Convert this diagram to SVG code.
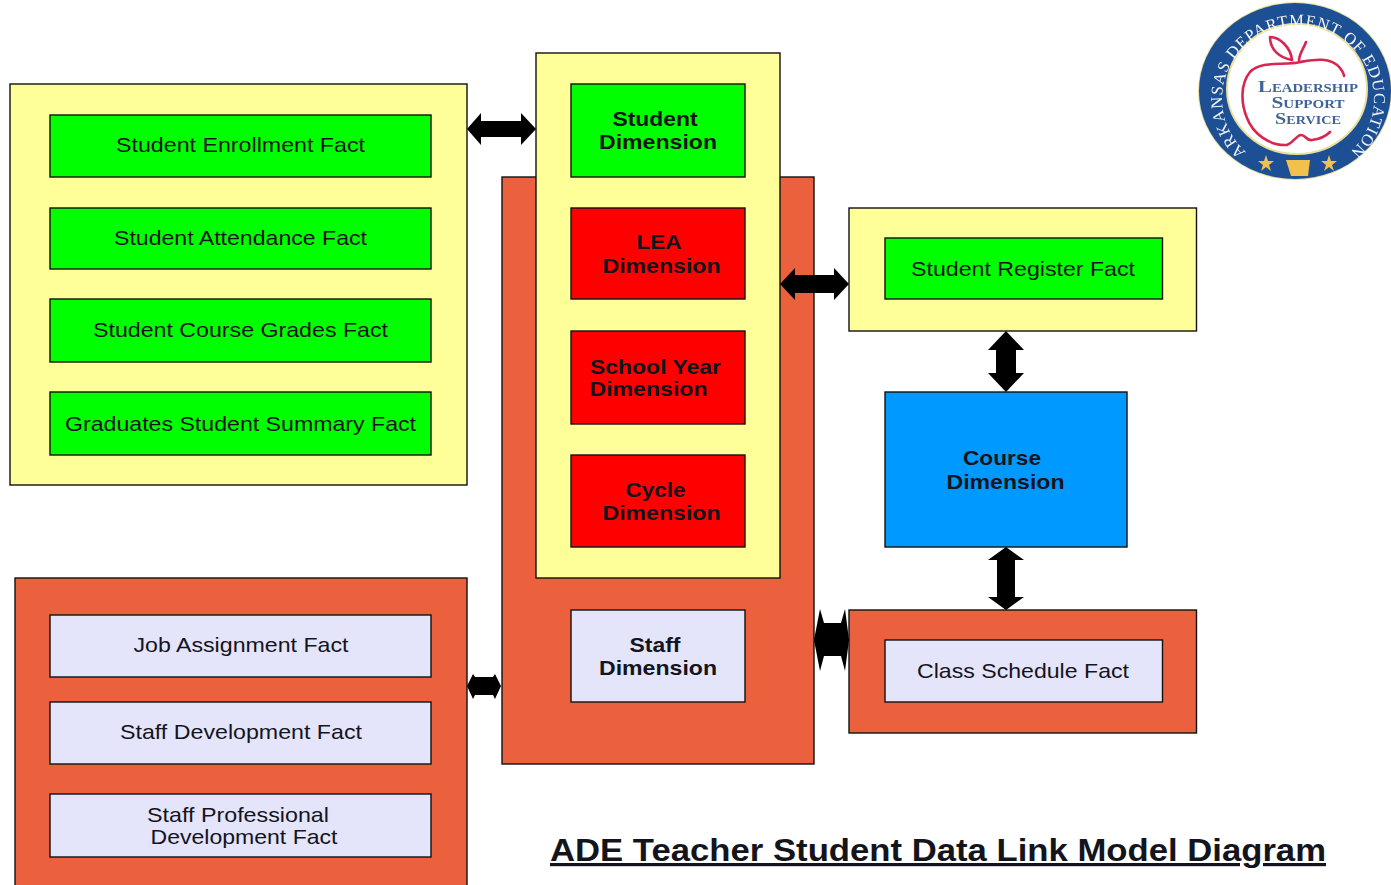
<svg xmlns="http://www.w3.org/2000/svg" width="1391" height="885" viewBox="0 0 1391 885">
<style>
.box{stroke:#111;stroke-width:1.4}
.y{fill:#ffff99}.o{fill:#ec613d}.g{fill:#00ff00}.r{fill:#ff0000}.l{fill:#e4e4fb}.b{fill:#0099ff}
text{font-family:"Liberation Sans",Arial,sans-serif;fill:#14141c}
.t{font-size:21px;text-anchor:middle}
.d{font-size:21px;font-weight:bold;text-anchor:middle}
.a{fill:#000}
.seal{font-family:"Liberation Serif","Times New Roman",serif;fill:#f4f6fa;font-size:16.5px;letter-spacing:.9px}
.lss{font-family:"Liberation Serif","Times New Roman",serif;fill:#3f6496;font-weight:bold;text-anchor:middle;font-size:17px;font-variant:small-caps}
.ap{fill:none;stroke:#d7264f;stroke-width:2.6;stroke-linecap:round;stroke-linejoin:round}
</style>
<defs>
<filter id="soft" x="-5%" y="-5%" width="110%" height="110%"><feGaussianBlur stdDeviation="0.5"/></filter>
<path id="sealArc" d="M1246 152A76 73 0 1 1 1350 152"/>
</defs>
<rect width="1391" height="885" fill="#fff"/>
<g id="container-enrollment"><rect class="box y" x="10" y="84" width="457" height="401"/></g>
<g id="container-staff-dim"><rect class="box o" x="502" y="177" width="312" height="587"/></g>
<g id="container-student-dim"><rect class="box y" x="536" y="53" width="244" height="525"/></g>
<g id="container-register"><rect class="box y" x="849" y="208" width="347.5" height="123"/></g>
<g id="container-schedule"><rect class="box o" x="849" y="610" width="347.5" height="123"/></g>
<g id="container-staff-facts"><rect class="box o" x="15" y="578" width="452" height="320"/></g>

<g id="student-enrollment-fact"><rect class="box g" x="50" y="115" width="381" height="62"/><text class="t" x="240.500" y="152" textLength="249" lengthAdjust="spacingAndGlyphs">Student Enrollment Fact</text></g>
<g id="student-attendance-fact"><rect class="box g" x="50" y="208" width="381" height="61"/><text class="t" x="240.500" y="245" textLength="253" lengthAdjust="spacingAndGlyphs">Student Attendance Fact</text></g>
<g id="student-course-grades-fact"><rect class="box g" x="50" y="299" width="381" height="63"/><text class="t" x="240.500" y="337" textLength="295" lengthAdjust="spacingAndGlyphs">Student Course Grades Fact</text></g>
<g id="graduates-student-summary-fact"><rect class="box g" x="50" y="392" width="381" height="63"/><text class="t" x="240.500" y="431" textLength="351" lengthAdjust="spacingAndGlyphs">Graduates Student Summary Fact</text></g>

<g id="student-dimension"><rect class="box g" x="571" y="84" width="174" height="93"/><text class="d" x="655" y="126" textLength="85" lengthAdjust="spacingAndGlyphs">Student</text><text class="d" x="658" y="149" textLength="118" lengthAdjust="spacingAndGlyphs">Dimension</text></g>
<g id="lea-dimension"><rect class="box r" x="571" y="208" width="174" height="91"/><text class="d" x="659" y="249" textLength="45" lengthAdjust="spacingAndGlyphs">LEA</text><text class="d" x="661.500" y="273" textLength="118" lengthAdjust="spacingAndGlyphs">Dimension</text></g>
<g id="school-year-dimension"><rect class="box r" x="571" y="331" width="174" height="93"/><text class="d" x="655.500" y="374" textLength="131" lengthAdjust="spacingAndGlyphs">School Year</text><text class="d" x="648.500" y="396" textLength="118" lengthAdjust="spacingAndGlyphs">Dimension</text></g>
<g id="cycle-dimension"><rect class="box r" x="571" y="455" width="174" height="92"/><text class="d" x="655.500" y="497" textLength="60" lengthAdjust="spacingAndGlyphs">Cycle</text><text class="d" x="661.500" y="520" textLength="118" lengthAdjust="spacingAndGlyphs">Dimension</text></g>
<g id="staff-dimension"><rect class="box l" x="571" y="610" width="174" height="92"/><text class="d" x="655" y="652" textLength="51" lengthAdjust="spacingAndGlyphs">Staff</text><text class="d" x="658" y="675" textLength="118" lengthAdjust="spacingAndGlyphs">Dimension</text></g>

<g id="student-register-fact"><rect class="box g" x="885" y="238" width="277.5" height="61"/><text class="t" x="1023" y="276" textLength="224" lengthAdjust="spacingAndGlyphs">Student Register Fact</text></g>
<g id="course-dimension"><rect class="box b" x="885" y="392" width="242" height="155"/><text class="d" x="1002" y="465" textLength="78" lengthAdjust="spacingAndGlyphs">Course</text><text class="d" x="1005.500" y="489" textLength="118" lengthAdjust="spacingAndGlyphs">Dimension</text></g>
<g id="class-schedule-fact"><rect class="box l" x="885" y="640" width="277.5" height="62"/><text class="t" x="1023" y="678" textLength="212" lengthAdjust="spacingAndGlyphs">Class Schedule Fact</text></g>

<g id="job-assignment-fact"><rect class="box l" x="50" y="615" width="381" height="62"/><text class="t" x="241" y="652" textLength="215" lengthAdjust="spacingAndGlyphs">Job Assignment Fact</text></g>
<g id="staff-development-fact"><rect class="box l" x="50" y="702" width="381" height="62"/><text class="t" x="241" y="739" textLength="242" lengthAdjust="spacingAndGlyphs">Staff Development Fact</text></g>
<g id="staff-professional-development-fact"><rect class="box l" x="50" y="794" width="381" height="63"/><text class="t" x="238" y="822" textLength="182" lengthAdjust="spacingAndGlyphs">Staff Professional</text><text class="t" x="244" y="844" textLength="187" lengthAdjust="spacingAndGlyphs">Development Fact</text></g>

<g id="connectors">
<path class="a" d="M467 129L481 113V121H521V113L536 129L521 145V137H481V145Z"/>
<path class="a" d="M780 284L795 268V275H834V268L849 284L834 300V293H795V300Z"/>
<path class="a" d="M1006 331L1024 350H1016V373H1024L1006 392L988 373H996V350H988Z"/>
<path class="a" d="M1006 547L1024 560H1015V597H1024L1006 610L988 597H997V560H988Z"/>
<path class="a" d="M814 640L820 609L824 623H841L845 609L849 640L845 671L841 656H824L820 671Z"/>
<path class="a" d="M467 686L473 674L475 677H493L495 674L501 686L495 699L493 695H475L473 699Z"/>
</g>

<g id="title"><text x="550" y="861" font-size="32" font-weight="bold" textLength="776" lengthAdjust="spacingAndGlyphs" text-decoration="underline">ADE Teacher Student Data Link Model Diagram</text></g>

<g id="logo" filter="url(#soft)">
<ellipse cx="1295" cy="91" rx="97" ry="89" fill="#e8dfa0"/>
<ellipse cx="1295" cy="91" rx="96" ry="88" fill="#1d4f93"/>
<ellipse cx="1297" cy="89" rx="70" ry="65" fill="#fff" stroke="#eadf9a" stroke-width="2"/>
<text class="seal"><textPath href="#sealArc" startOffset="50%" text-anchor="middle">ARKANSAS DEPARTMENT OF EDUCATION</textPath></text>
<path class="ap" d="M1300 62C1285 66 1262 60 1250 72C1240 84 1241 104 1247 118C1253 134 1270 146 1287 145C1294 142 1297 135 1301 135C1306 135 1306 141 1312 140C1320 139 1326 136 1330 132"/>
<path class="ap" d="M1300 62C1312 60 1330 56 1340 68C1343 72 1344 75 1344 76"/>
<path class="ap" d="M1270 37C1280 37 1291 48 1292 60C1280 58 1270 50 1270 37ZM1299 60C1300 52 1304 48 1306 42"/>
<text class="lss" x="1308" y="92" textLength="100" lengthAdjust="spacingAndGlyphs">Leadership</text>
<text class="lss" x="1308" y="108" textLength="73" lengthAdjust="spacingAndGlyphs">Support</text>
<text class="lss" x="1308" y="124" textLength="66" lengthAdjust="spacingAndGlyphs">Service</text>
<path d="M1286 160H1310L1308 176H1291Z" fill="#f2c14e"/>
<path d="M1266 155L1268 161L1274 161L1269 165L1271 171L1266 167L1261 171L1263 165L1258 161L1264 161Z" fill="#f2c14e"/>
<path d="M1329 155L1331 161L1337 161L1332 165L1334 171L1329 167L1324 171L1326 165L1321 161L1327 161Z" fill="#f2c14e"/>
</g>
</svg>
